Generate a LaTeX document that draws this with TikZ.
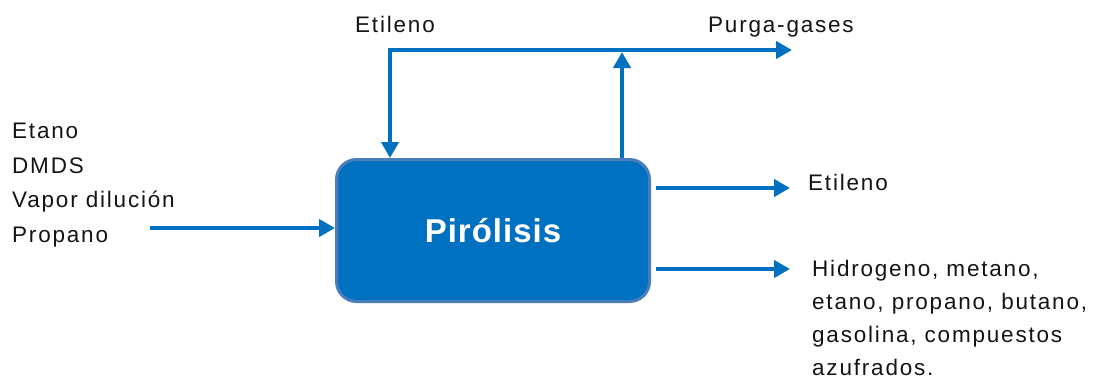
\documentclass[tikz,border=0pt]{standalone}
\usepackage{fontspec}
\setmainfont{Liberation Sans}
\newfontfamily\lblfont[LetterSpace=8]{Liberation Sans}
\newfontfamily\boxfont[LetterSpace=3]{Liberation Sans}
\usetikzlibrary{arrows.meta}
\definecolor{flow}{RGB}{0,112,192}
\definecolor{boxedge}{RGB}{74,126,187}
\definecolor{txt}{RGB}{20,20,20}
\begin{document}
\begin{tikzpicture}[x=1pt,y=-1pt,
  flowline/.style={draw=flow,line width=4.5pt,-{Triangle[length=16pt,width=17pt]}},
  lbl/.style={text=txt,font=\lblfont\fontsize{22.5}{34.5}\selectfont,inner sep=0pt,align=left},
  procbox/.style={draw=boxedge,line width=3pt,fill=flow,rounded corners=20pt,
    minimum width=313pt,minimum height=142pt,text=white,
    font=\boxfont\bfseries\fontsize{33}{40}\selectfont}]
\useasboundingbox (0,0) rectangle (1103,381);
\node[procbox] (pir) at (493,230.5) {Pirólisis};
% inputs
\node[lbl,anchor=north west] (inp) at (12,123) {Etano\\DMDS\\Vapor dilución\\Propano};
\coordinate (instart) at (150,228);
\draw[flowline] (instart) -- (instart -| pir.west);
% recycle / purge loop
\coordinate (tl) at (390,50);
\coordinate (tr) at (792,50);
\coordinate (upend) at (622,52);
\draw[draw=flow,line width=4.5pt,{Triangle[length=16pt,width=17pt]}-{Triangle[length=16pt,width=17pt]}]
  (tl |- pir.north) -- (tl) -- (tr);
\draw[flowline] (upend |- pir.north) -- (upend);
\node[lbl,anchor=base west] (etop) at (355,32) {Etileno};
\node[lbl,anchor=base west] (purga) at (708,32) {Purga-gases};
% outputs
\coordinate (o1) at (790,188);
\coordinate (o2) at (790,269);
\draw[flowline] ([xshift=5pt]o1 -| pir.east) -- (o1);
\draw[flowline] ([xshift=5pt]o2 -| pir.east) -- (o2);
\node[lbl,anchor=base west] (eout) at (808,190) {Etileno};
\node[lbl,anchor=north west,font=\lblfont\fontsize{22.5}{33}\selectfont] (rest) at (812,259.5) {Hidrogeno, metano,\\etano, propano, butano,\\gasolina, compuestos\\azufrados.};
\end{tikzpicture}
\end{document}
